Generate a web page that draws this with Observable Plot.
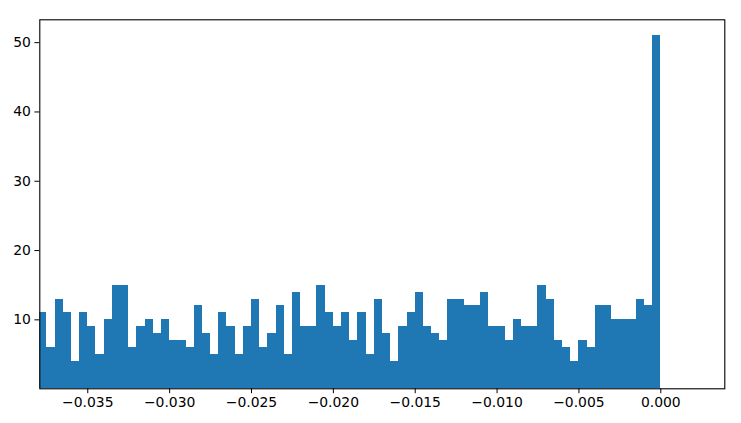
<!DOCTYPE html>
<html><head><meta charset="utf-8">
<script src="https://cdn.jsdelivr.net/npm/d3@7"></script>
<script src="https://cdn.jsdelivr.net/npm/@observablehq/plot@0.6"></script>
<style>body{margin:0;background:#fff}</style>
</head><body><div id="chart"></div>
<script>
const counts = [11,6,13,11,4,11,9,5,10,15,15,6,9,10,8,10,7,7,6,12,8,5,11,9,5,9,13,6,8,12,5,14,9,9,15,11,9,11,7,11,5,13,8,4,9,11,14,9,8,7,13,13,12,12,14,9,9,7,10,9,9,15,13,7,6,4,7,6,12,12,10,10,10,13,12,51];
const binStart = -0.038;
const binWidth = 0.0005;
const xTicks = [-0.035,-0.030,-0.025,-0.020,-0.015,-0.010,-0.005,0];
const yTicks = [10,20,30,40,50];
const xDomain = [-0.03793, 0.00391];
const yDomain = [0.05, 53.3];

const bins = counts.map((c,i)=>({x1: binStart + i*binWidth, x2: binStart + (i+1)*binWidth, y1: 0, count: c}));
const fmt = d => (d < 0 ? "\u2212" : "") + Math.abs(d).toFixed(3);

const chart = Plot.plot({
  width: 741, height: 423,
  marginLeft: 39.3, marginRight: 16.7, marginTop: 19.3, marginBottom: 34.7,
  style: {fontFamily: "DejaVu Sans", fontSize: "13.9px", background: "white", color: "black"},
  x: {domain: xDomain, ticks: xTicks, tickFormat: fmt, label: null, tickSize: 4.9, tickPadding: 3.5},
  y: {domain: yDomain, ticks: yTicks, label: null, tickSize: 4.9, tickPadding: 4},
  marks: [
    Plot.rect(bins, {x1: "x1", x2: "x2", y1: "y1", y2: "count", fill: "#1f77b4", shapeRendering: "crispEdges", clip: true}),
    Plot.frame({stroke: "black", strokeWidth: 1.1})
  ]
});
document.getElementById("chart").appendChild(chart);
</script>
</body></html>
